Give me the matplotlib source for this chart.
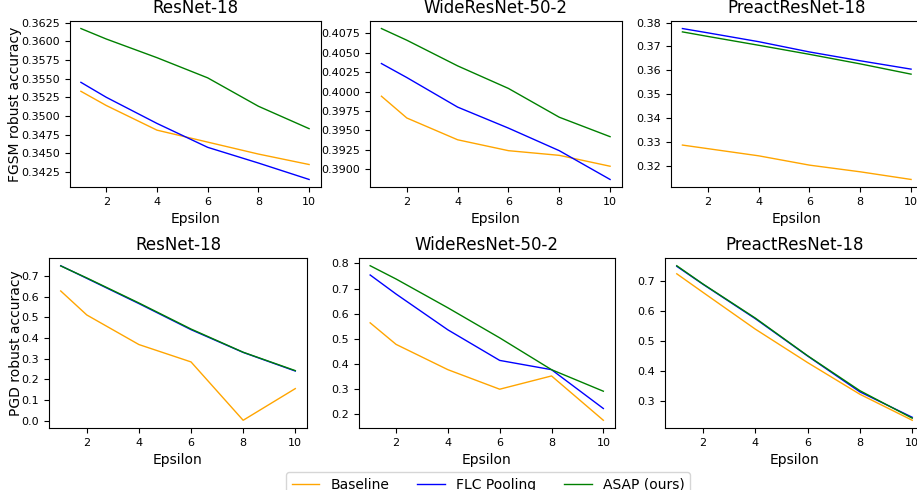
import numpy as np
import matplotlib
matplotlib.use('Agg')
import matplotlib.pyplot as plt

eps = [1, 2, 4, 6, 8, 10]
titles = ['ResNet-18', 'WideResNet-50-2', 'PreactResNet-18']
labels = ['Baseline', 'FLC Pooling', 'ASAP (ours)']
colors = ['orange', 'blue', 'green']

# FGSM robust accuracy (baseline, flc, asap)
fgsm_resnet = [
    [0.3533, 0.3514, 0.3481, 0.3465, 0.3449, 0.3435],
    [0.3545, 0.3525, 0.3490, 0.3458, 0.3437, 0.3415],
    [0.3617, 0.3603, 0.3578, 0.3551, 0.3513, 0.3483],
]
fgsm_wrn = [
    [0.3994, 0.3966, 0.3938, 0.3924, 0.3918, 0.3904],
    [0.4036, 0.4018, 0.3980, 0.3953, 0.3924, 0.3887],
    [0.4081, 0.4066, 0.4033, 0.4004, 0.3967, 0.3942],
]
fgsm_preact = [
    [0.3287, 0.3272, 0.3242, 0.3203, 0.3175, 0.3143],
    [0.3775, 0.3757, 0.3720, 0.3677, 0.3640, 0.3605],
    [0.3761, 0.3742, 0.3705, 0.3667, 0.3627, 0.3584],
]

# PGD robust accuracy
pgd_resnet = [
    [0.627, 0.511, 0.368, 0.284, 0.002, 0.155],
    [0.749, 0.688, 0.566, 0.440, 0.330, 0.240],
    [0.748, 0.690, 0.569, 0.443, 0.331, 0.242],
]
pgd_wrn = [
    [0.563, 0.477, 0.376, 0.298, 0.351, 0.174],
    [0.754, 0.678, 0.535, 0.413, 0.376, 0.221],
    [0.791, 0.738, 0.623, 0.503, 0.376, 0.290],
]
pgd_preact = [
    [0.725, 0.663, 0.540, 0.428, 0.322, 0.235],
    [0.750, 0.690, 0.575, 0.450, 0.330, 0.245],
    [0.752, 0.691, 0.577, 0.451, 0.334, 0.242],
]

W, H = 917, 490
fig = plt.figure(figsize=(W / 100, H / 100), dpi=100)

# axes boxes in pixels: left, right, top, bottom
boxes = [
    (69.5, 320.5, 21, 187), (370, 621.5, 21, 187), (671, 922.5, 21, 187),
    (49, 307, 258, 428), (358.5, 615, 258, 428), (665, 924, 258, 428),
]
data = [fgsm_resnet, fgsm_wrn, fgsm_preact, pgd_resnet, pgd_wrn, pgd_preact]

axes = []
for i, (l, r, t, b) in enumerate(boxes):
    ax = fig.add_axes([l / W, 1 - b / H, (r - l) / W, (b - t) / H])
    for s, c, lab in zip(data[i], colors, labels):
        ax.plot(eps, s, color=c, lw=1, label=lab)
    ax.set_title(titles[i % 3], fontsize=12)
    ax.set_xlabel('Epsilon', fontsize=10)
    ax.set_xticks([2, 4, 6, 8, 10])
    ax.tick_params(labelsize=8)
    axes.append(ax)

axes[0].set_ylabel('FGSM robust accuracy', fontsize=10)
axes[0].yaxis.set_label_coords(-0.189, 0.5)
axes[3].set_ylabel('PGD robust accuracy', fontsize=10)
axes[3].yaxis.set_label_coords(-0.101, 0.5)

t1 = np.arange(0.3425, 0.3626, 0.0025)
axes[0].set_yticks(t1)
axes[0].set_yticklabels(['%.4f' % v for v in t1])
t2 = np.arange(0.3900, 0.4076, 0.0025)
axes[1].set_yticks(t2)
axes[1].set_yticklabels(['%.4f' % v for v in t2])
t4 = np.arange(0.0, 0.75, 0.1)
axes[3].set_yticks(t4)
axes[3].set_yticklabels(['%.1f' % v for v in t4])

handles, lbls = axes[0].get_legend_handles_labels()
fig.legend(handles, lbls, loc='upper center', ncol=3, fontsize=10,
           bbox_to_anchor=(488 / W, 1 - 465 / H))

fig.savefig('out.png', dpi=100)
